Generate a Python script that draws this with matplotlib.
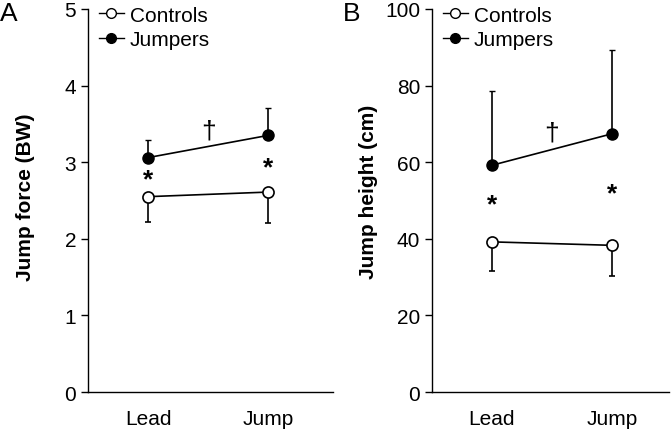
import matplotlib.pyplot as plt
from matplotlib.lines import Line2D

plt.rcParams['font.family'] = ['Liberation Sans', 'DejaVu Sans']

# data
conditions = ['Lead', 'Jump']
force_controls = [2.55, 2.61]
force_controls_sd = [0.33, 0.41]
force_jumpers = [3.06, 3.35]
force_jumpers_sd = [0.23, 0.36]

height_controls = [39.2, 38.3]
height_controls_sd = [7.5, 8.0]
height_jumpers = [59.2, 67.4]
height_jumpers_sd = [19.5, 22.0]

force_star_y = [2.77, 2.93]
height_star_y = [49.0, 51.8]
force_dagger_y = 3.41
height_dagger_y = 67.8

fig = plt.figure(figsize=(6.72, 4.31), dpi=100)
axA = fig.add_axes([0.131, 0.088, 0.365, 0.889])
axB = fig.add_axes([0.643, 0.088, 0.353, 0.889])


def draw_panel(ax, ctrl, ctrl_sd, jump, jump_sd, star_y, dagger_y, ylim, yticks, ylabel, xlim, label_xy):
    x = list(range(len(conditions)))
    ax.errorbar(x, ctrl, yerr=[ctrl_sd, [0] * len(ctrl)], color='black', lw=1.2,
                marker='o', ms=8, mfc='white', mec='black', mew=1.2,
                capsize=2.5, elinewidth=1.2, zorder=3)
    ax.errorbar(x, jump, yerr=[[0] * len(jump), jump_sd], color='black', lw=1.2,
                marker='o', ms=8, mfc='black', mec='black',
                capsize=2.5, elinewidth=1.2, zorder=3)
    for xi, yi in zip(x, star_y):
        ax.text(xi, yi, '*', ha='center', va='center', fontsize=19, fontweight='bold')
    ax.text(0.5, dagger_y, '†', ha='center', va='center', fontsize=19)
    ax.set_ylim(*ylim)
    ax.set_xlim(*xlim)
    ax.set_yticks(yticks)
    ax.set_xticks(x)
    ax.set_xticklabels(conditions, fontsize=15)
    ax.tick_params(axis='x', length=0, pad=12)
    ax.tick_params(axis='y', labelsize=15, length=5, width=1, direction='out')
    ax.set_ylabel(ylabel, fontsize=15, fontweight='bold')
    ax.yaxis.set_label_coords(*label_xy)
    for s in ['top', 'right']:
        ax.spines[s].set_visible(False)
    ax.spines['left'].set_linewidth(1)
    ax.spines['bottom'].set_linewidth(1)
    handles = [
        Line2D([], [], color='black', lw=1, marker='o', ms=7, mfc='white', mec='black'),
        Line2D([], [], color='black', lw=1, marker='o', ms=7, mfc='black', mec='black'),
    ]
    ax.legend(handles, ['Controls', 'Jumpers'], loc='upper left', bbox_to_anchor=(0.01, 1.03),
              frameon=False, fontsize=15, handlelength=1.2, handletextpad=0.3,
              borderaxespad=0.0, labelspacing=0.25)


draw_panel(axA, force_controls, force_controls_sd, force_jumpers, force_jumpers_sd,
           force_star_y, force_dagger_y, (0, 5), [0, 1, 2, 3, 4, 5], 'Jump force (BW)',
           (-0.5, 1.54), (-0.216, 0.51))
draw_panel(axB, height_controls, height_controls_sd, height_jumpers, height_jumpers_sd,
           height_star_y, height_dagger_y, (0, 100), [0, 20, 40, 60, 80, 100], 'Jump height (cm)',
           (-0.5, 1.48), (-0.228, 0.525))

fig.text(0.0, 0.995, 'A', fontsize=19, ha='left', va='top')
fig.text(0.51, 0.995, 'B', fontsize=19, ha='left', va='top')

fig.savefig('out.png', dpi=100)
